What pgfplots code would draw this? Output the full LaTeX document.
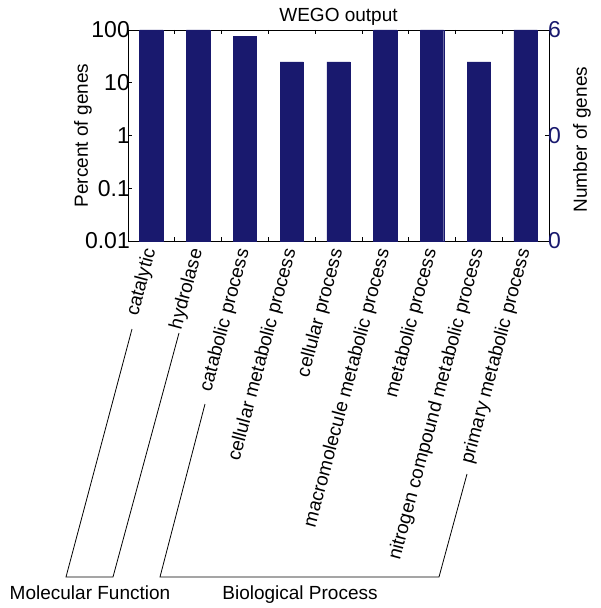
\documentclass[border=0pt]{standalone}
\usepackage{fontspec}
\setmainfont{Liberation Sans}
\usepackage{pgfplots}
\pgfplotsset{compat=1.18}
\definecolor{navy}{RGB}{25,25,110}
\begin{document}
\begin{tikzpicture}
\begin{axis}[
  at={(0,0)}, anchor=south west,
  width=421pt, height=211pt, scale only axis,
  ymode=log, ymin=0.01, ymax=100, log origin=infty,
  xmin=-0.5, xmax=8.5,
  ytick={0.01,0.1,1,10,100},
  yticklabels={0.01,0.1,1,10,100},
  ytick pos=left,
  yticklabel style={font=\fontsize{23}{27}\selectfont, inner sep=0pt, xshift=2pt},
  xtick={0.5,1.5,2.5,3.5,4.5,5.5,6.5,7.5}, xticklabels={},
  xtick pos=both,
  extra x ticks={0,1,2,3,4,5,6,7,8},
  extra x tick labels={catalytic,hydrolase,catabolic process,cellular metabolic process,cellular process,macromolecule metabolic process,metabolic process,nitrogen compound metabolic process,primary metabolic process},
  extra x tick style={major tick length=0pt, xticklabel style={rotate=75, anchor=east, font=\fontsize{19}{22}\selectfont, inner sep=2pt, xshift=-6pt, yshift=-1.6pt}},
  tick align=inside, major tick length=4pt, minor tick length=0pt,
  tick style={black, line width=0.6pt},
  axis line style={line width=0.7pt},
  title={WEGO output},
  title style={font=\fontsize{19}{22}\selectfont, at={(0.5,1)}, anchor=south, yshift=-2pt, inner sep=0pt},
  ylabel={Percent of genes},
  ylabel style={font=\fontsize{19}{22}\selectfont, at={(axis description cs:-0.107,0.5)}, anchor=center},
]
\addplot[ybar, fill=navy, draw=navy, bar width=0.5] coordinates {(0,100) (1,100) (2,75) (3,25) (4,25) (5,100) (6,100) (7,25) (8,100)};
\end{axis}
\begin{axis}[
  at={(0,0)}, anchor=south west,
  width=421pt, height=211pt, scale only axis,
  xmin=0, xmax=1, ymin=0, ymax=1,
  axis y line*=right, axis x line=none,
  ytick={0,0.5,1}, yticklabels={0,0,6},
  yticklabel style={font=\fontsize{23}{27}\selectfont, text=navy, inner sep=0pt, xshift=-1pt},
  tick align=inside, major tick length=4pt,
  tick style={black, line width=0.6pt},
  axis line style={line width=0.7pt},
  ylabel={Number of genes},
  ylabel style={font=\fontsize{19}{22}\selectfont, at={(axis description cs:1.078,0.48)}, anchor=center},
]
\addplot[draw=none] coordinates {(0,0) (1,1)};
\end{axis}
\begin{scope}[x=1pt, y=1pt, line width=0.8pt]
\draw (4,-88) -- (-62,-336) -- (-15,-336) -- (51,-92);
\draw (77,-163) -- (32,-336) -- (311,-336) -- (339,-233);
\node[anchor=base, font=\fontsize{19}{22}\selectfont, inner sep=0pt] at (-38,-358) {Molecular Function};
\node[anchor=base, font=\fontsize{19}{22}\selectfont, inner sep=0pt] at (172,-358) {Biological Process};
\end{scope}
\pgfresetboundingbox
\useasboundingbox (-128pt,-367pt) rectangle (472pt,241pt);
\end{tikzpicture}
\end{document}
